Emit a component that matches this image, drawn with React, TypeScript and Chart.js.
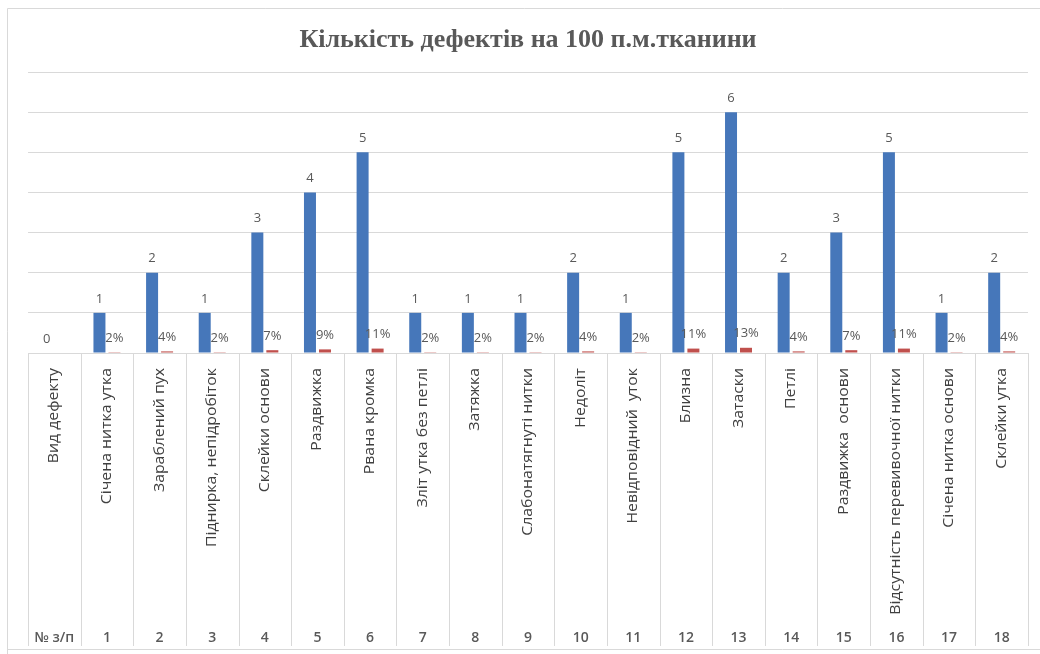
import { useEffect, useRef } from "react";
import { Chart, registerables } from "chart.js";

Chart.register(...registerables);

// Chart heading
const chartTitle = "Кількість дефектів на 100 п.м.тканини";

// Defect types (upper row of the category table)
const defectNames = [
  "Вид дефекту",
  "Січена нитка утка",
  "Зараблений пух",
  "Піднирка, непідробіток",
  "Склейки основи",
  "Раздвижка",
  "Рвана кромка",
  "Зліт утка без петлі",
  "Затяжка",
  "Слабонатягнуті нитки",
  "Недоліт",
  "Невідповідний  уток",
  "Близна",
  "Затаски",
  "Петлі",
  "Раздвижка  основи",
  "Відсутність перевивочної нитки",
  "Січена нитка основи",
  "Склейки утка",
];

// Row numbers (lower row of the category table)
const rowNumbers = [
  "№ з/п", "1", "2", "3", "4", "5", "6", "7", "8", "9",
  "10", "11", "12", "13", "14", "15", "16", "17", "18",
];

// Number of defects per 100 running metres
const defectCounts = [0, 1, 2, 1, 3, 4, 5, 1, 1, 1, 2, 1, 5, 6, 2, 3, 5, 1, 2];

// Share of each defect in the total
const defectShares: (number | null)[] = [
  null, 0.02, 0.04, 0.02, 0.07, 0.09, 0.11, 0.02, 0.02, 0.02,
  0.04, 0.02, 0.11, 0.13, 0.04, 0.07, 0.11, 0.02, 0.04,
];

// Value axis range
const yMin = 0;
const yMax = 7;
const yStep = 1;

const GRID = "#d9d9d9";
const LABEL = "#595959";

const tablePlugin = {
  id: "defectTable",
  beforeDraw(chart: any) {
    const { ctx, width, height } = chart;
    ctx.save();
    ctx.fillStyle = "#ffffff";
    ctx.fillRect(0, 0, width, height);
    ctx.restore();
  },
  afterDatasetsDraw(chart: any) {
    const { ctx } = chart;
    ctx.save();
    ctx.textAlign = "center";
    ctx.textBaseline = "middle";
    ctx.font = "13px 'Open Sans'";
    ctx.fillStyle = LABEL;
    const counts = chart.getDatasetMeta(0).data;
    counts.forEach((bar: any, i: number) => {
      ctx.fillText(String(defectCounts[i]), bar.x, bar.y - 14);
    });
    const shares = chart.getDatasetMeta(1).data;
    shares.forEach((bar: any, i: number) => {
      const v = defectShares[i];
      if (v == null) return;
      ctx.fillText(Math.round(v * 100) + "%", bar.x, bar.y - 14);
    });
    ctx.restore();
  },
  afterDraw(chart: any) {
    const { ctx, chartArea } = chart;
    const { left, right, bottom } = chartArea;
    const n = defectNames.length;
    const colW = (right - left) / n;
    const tableBottom = 646;

    ctx.save();
    // outer frame
    ctx.strokeStyle = GRID;
    ctx.lineWidth = 1;
    ctx.beginPath();
    ctx.moveTo(7.5, 660);
    ctx.lineTo(7.5, 8.5);
    ctx.lineTo(1045, 8.5);
    ctx.moveTo(7.5, 649.5);
    ctx.lineTo(1045, 649.5);
    ctx.stroke();

    // title
    ctx.fillStyle = LABEL;
    ctx.font = "bold 26px 'Liberation Serif'";
    ctx.textAlign = "center";
    ctx.textBaseline = "middle";
    ctx.fillText(chartTitle, 528, 40);

    // table column separators
    ctx.strokeStyle = GRID;
    ctx.beginPath();
    for (let i = 0; i <= n; i++) {
      const x = Math.round(left + i * colW) + 0.5;
      ctx.moveTo(x, bottom);
      ctx.lineTo(x, tableBottom);
    }
    ctx.stroke();

    // rotated defect names
    ctx.fillStyle = "#404040";
    ctx.font = "14px 'Open Sans'";
    for (let i = 0; i < n; i++) {
      const cx = left + (i + 0.5) * colW;
      ctx.save();
      ctx.translate(cx, 368);
      ctx.rotate(-Math.PI / 2);
      ctx.scale(1.13, 1);
      ctx.textAlign = "right";
      ctx.textBaseline = "middle";
      ctx.fillText(defectNames[i], 0, 0);
      ctx.restore();
    }

    // row numbers
    ctx.fillStyle = LABEL;
    ctx.font = "600 14px 'Open Sans'";
    ctx.textAlign = "center";
    ctx.textBaseline = "middle";
    for (let i = 0; i < n; i++) {
      const cx = left + (i + 0.5) * colW;
      ctx.fillText(rowNumbers[i], cx, 638);
    }
    ctx.restore();
  },
};

export default function App() {
  const canvasRef = useRef<HTMLCanvasElement | null>(null);

  useEffect(() => {
    document.body.style.margin = "0";
    const canvas = canvasRef.current;
    if (!canvas) return;
    const chart = new Chart(canvas, {
      type: "bar",
      data: {
        labels: defectNames,
        datasets: [
          {
            label: "Кількість",
            data: defectCounts,
            backgroundColor: "#4677ba",
            categoryPercentage: 0.57,
            barPercentage: 0.8,
          },
          {
            label: "Частка",
            data: defectShares,
            backgroundColor: "#c0504d",
            categoryPercentage: 0.57,
            barPercentage: 0.8,
          },
        ],
      },
      options: {
        responsive: false,
        animation: false,
        layout: { padding: { left: 28, right: 12, top: 72, bottom: 301 } },
        plugins: {
          legend: { display: false },
          tooltip: { enabled: false },
          title: { display: false },
        },
        scales: {
          x: { display: false },
          y: {
            min: yMin,
            max: yMax,
            ticks: { display: false, stepSize: yStep },
            border: { display: false },
            grid: { color: GRID, drawTicks: false },
            afterFit: (s: any) => {
              s.width = 0;
            },
          },
        },
      },
      plugins: [tablePlugin],
    });
    return () => chart.destroy();
  }, []);

  return (
    <div style={{ width: 1040, height: 654 }}>
      <canvas ref={canvasRef} width={1040} height={654} />
    </div>
  );
}
